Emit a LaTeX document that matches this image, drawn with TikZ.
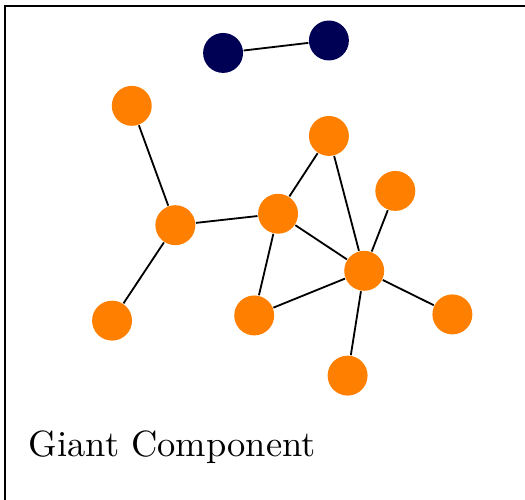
\documentclass[tikz,border=0pt]{standalone}
\definecolor{giantorange}{RGB}{255,128,0}
\definecolor{smallnavy}{RGB}{0,0,84}
\tikzset{
  vertex/.style={circle,draw=none,inner sep=0pt,minimum size=0.385cm},
  giant/.style={vertex,fill=giantorange},
  small/.style={vertex,fill=smallnavy},
  link/.style={draw=black,line width=0.5pt}
}

\begin{document}
\begin{tikzpicture}[x=1cm,y=1cm]
\useasboundingbox (0,0) rectangle (5.06,-4.81);
\path[draw=black,line width=0.6pt] (0.045,-0.055) rectangle (5.4,-5.1);
% two-vertex component
\node[small] (pair-0) at (2.15,-0.51) {};
\node[small] (pair-1) at (3.17,-0.39) {};
% giant component
\node[giant] (v-0) at (1.27,-1.02) {};
\node[giant] (v-1) at (3.17,-1.31) {};
\node[giant] (v-2) at (3.81,-1.84) {};
\node[giant] (v-3) at (1.69,-2.17) {};
\node[giant] (v-4) at (2.68,-2.06) {};
\node[giant] (v-5) at (3.51,-2.61) {};
\node[giant] (v-6) at (1.08,-3.09) {};
\node[giant] (v-7) at (2.45,-3.04) {};
\node[giant] (v-8) at (4.36,-3.03) {};
\node[giant] (v-9) at (3.35,-3.62) {};
\path[link] (pair-0) -- (pair-1);
\foreach \a/\b in {0/3,3/6,3/4,4/1,1/5,4/5,4/7,7/5,2/5,5/8,5/9}
  \path[link] (v-\a) -- (v-\b);
\node[anchor=base west,inner sep=0pt] (caption) at (0.27,-4.40) {Giant Component};
\end{tikzpicture}
\end{document}
